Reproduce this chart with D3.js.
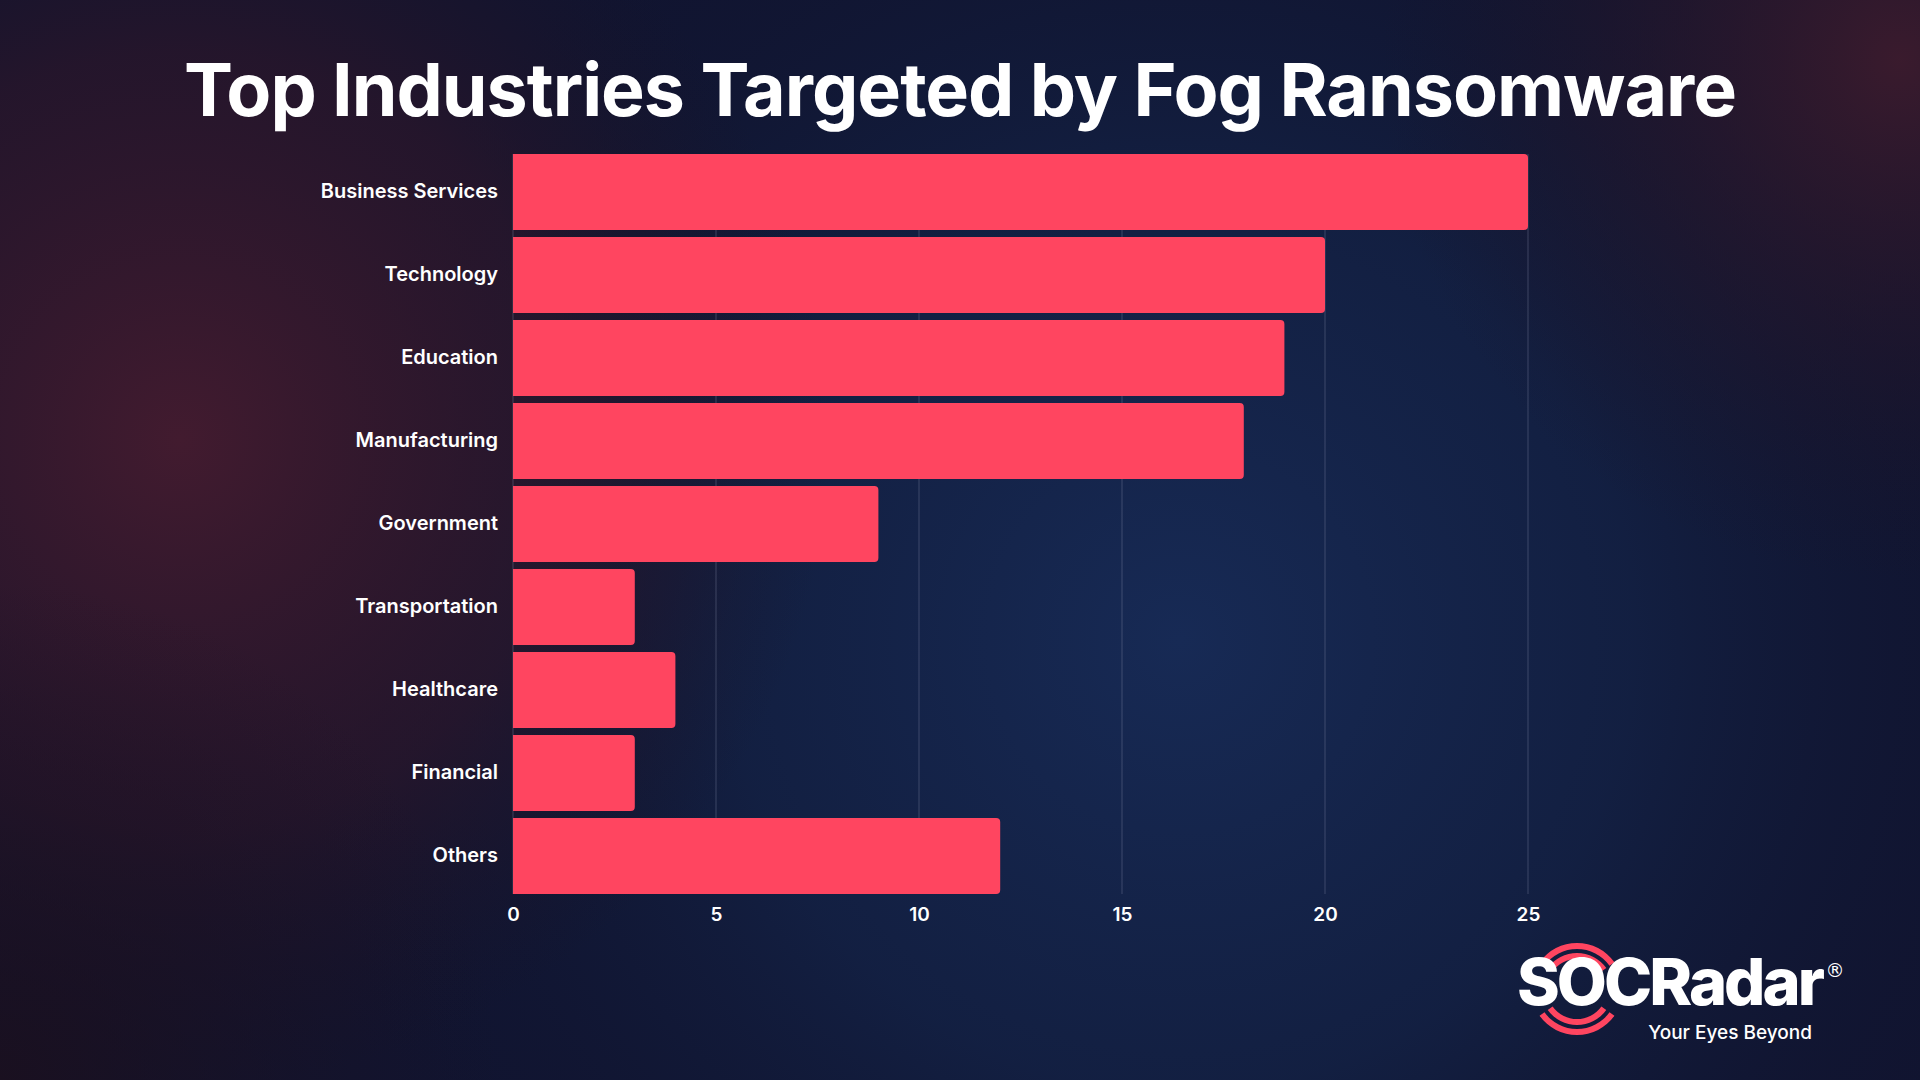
<!DOCTYPE html>
<html><head><meta charset="utf-8">
<script src="https://cdn.jsdelivr.net/npm/d3@7"></script>
<style>
html,body{margin:0;padding:0;background:#111530;}
svg{display:block;}
</style></head>
<body>
<svg id="chart" width="1920" height="1080"></svg>
<script>
const categories = ["Business Services","Technology","Education","Manufacturing","Government","Transportation","Healthcare","Financial","Others"];
const values = [25, 20, 19, 18, 9, 3, 4, 3, 12];
const tickValues = [0, 5, 10, 15, 20, 25];
const titleText = "Top Industries Targeted by Fog Ransomware";

const svg = d3.select("#chart");
const defs = svg.append("defs");

function radial(id, cx, cy, r, stops){
  const g = defs.append("radialGradient").attr("id", id)
    .attr("gradientUnits","userSpaceOnUse").attr("cx",cx).attr("cy",cy).attr("r",r);
  stops.forEach(s => g.append("stop").attr("offset", s[0]).attr("stop-color", s[1]).attr("stop-opacity", s[2]));
}
radial("bgBlue", 1180, 640, 900, [[0,"#172a55",1],[0.5,"#132246",0.8],[1,"#0f1530",0]]);
radial("bgMaroon", 180, 440, 650, [[0,"#421b2f",1],[0.6,"#2e1629",0.65],[1,"#1a1224",0]]);
radial("bgTopRight", 1900, 60, 520, [[0,"#3c1b2d",0.95],[1,"#1a1224",0]]);
radial("bgBotLeft", 0, 1080, 500, [[0,"#1c0f1c",0.8],[1,"#1a1020",0]]);
svg.append("rect").attr("width",1920).attr("height",1080).attr("fill","#111430");
svg.append("rect").attr("width",1920).attr("height",1080).attr("fill","url(#bgBlue)");
svg.append("rect").attr("width",1920).attr("height",1080).attr("fill","url(#bgMaroon)");
svg.append("rect").attr("width",1920).attr("height",1080).attr("fill","url(#bgTopRight)");
svg.append("rect").attr("width",1920).attr("height",1080).attr("fill","url(#bgBotLeft)");

// title
const title = svg.append("text")
  .attr("x", 960).attr("y", 116)
  .attr("text-anchor","middle")
  .attr("fill","#ffffff")
  .style("font-family","Inter, 'Open Sans', sans-serif")
  .style("font-weight", 700)
  .style("font-size","72px")
  .style("letter-spacing","-1px")
  .text(titleText);
const tw = title.node().getComputedTextLength();
title.style("font-size", (72 * 1552 / tw).toFixed(1) + "px");

// scales
const x = d3.scaleLinear().domain([0, 25]).range([513, 1528]);
const y = d3.scaleBand().domain(categories).range([154, 894]).paddingInner(0.085).paddingOuter(0);

// gridlines
svg.append("g").selectAll("line").data(tickValues).join("line")
  .attr("x1", d => x(d)).attr("x2", d => x(d))
  .attr("y1", 154).attr("y2", 894)
  .attr("stroke", "#8a93b0").attr("stroke-opacity", 0.35).attr("stroke-width", 1);

// bars (rounded right end)
const r = 4;
svg.append("g").selectAll("path").data(categories).join("path")
  .attr("fill", "#ff4560")
  .attr("d", (c, i) => {
    const x0 = x(0), x1 = x(values[i]), y0 = y(c), h = y.bandwidth();
    return `M${x0},${y0}H${x1 - r}Q${x1},${y0} ${x1},${y0 + r}V${y0 + h - r}Q${x1},${y0 + h} ${x1 - r},${y0 + h}H${x0}Z`;
  });

// category labels
const yAxis = d3.axisLeft(y).tickSize(0).tickPadding(15);
const ya = svg.append("g").attr("transform", `translate(${x(0)},0)`).call(yAxis);
ya.select(".domain").remove();
ya.selectAll("text")
  .attr("fill", "#ffffff")
  .style("font-family", "Inter, 'Open Sans', sans-serif")
  .style("font-weight", 600)
  .style("font-size", "20px");

// x axis
const xAxis = d3.axisBottom(x).tickValues(tickValues).tickSize(0).tickPadding(14);
const xa = svg.append("g").attr("transform", `translate(0,${894})`).call(xAxis);
xa.select(".domain").remove();
xa.selectAll("text")
  .attr("fill", "#ffffff")
  .style("font-family", "Inter, 'Open Sans', sans-serif")
  .style("font-weight", 600)
  .style("font-size", "19px");

// logo
const logo = svg.append("g");
const arc = d3.arc();
const cx = 1577, cy = 989;
[[30, 36], [40, 46]].forEach(([ri, ro]) => {
  logo.append("path").attr("transform", `translate(${cx},${cy})`)
    .attr("fill", "#ff4560")
    .attr("d", arc({innerRadius: ri, outerRadius: ro, startAngle: -0.95, endAngle: 0.95, cornerRadius: 3}));
  logo.append("path").attr("transform", `translate(${cx},${cy})`)
    .attr("fill", "#ff4560")
    .attr("d", arc({innerRadius: ri, outerRadius: ro, startAngle: Math.PI - 0.95, endAngle: Math.PI + 0.95, cornerRadius: 3}));
});
const brand = logo.append("text")
  .attr("x", 1517).attr("y", 1005)
  .attr("fill", "#ffffff")
  .style("font-family", "Inter, 'Open Sans', sans-serif")
  .style("font-weight", 800)
  .style("font-size", "50px")
  .style("letter-spacing", "-3px")
  .text("SOCRadar");
const bw = brand.node().getComputedTextLength();
brand.style("font-size", (50 * 298 / bw).toFixed(1) + "px");
logo.append("text")
  .attr("x", 1835).attr("y", 977)
  .attr("text-anchor", "middle")
  .attr("fill", "#ffffff")
  .style("font-family", "'DejaVu Sans', sans-serif")
  .style("font-size", "19px")
  .text("®");
logo.append("text")
  .attr("x", 1812).attr("y", 1039)
  .attr("text-anchor", "end")
  .attr("fill", "#ffffff")
  .style("font-family", "Inter, 'Open Sans', sans-serif")
  .style("font-weight", 500)
  .style("font-size", "19px")
  .text("Your Eyes Beyond");
</script>
</body></html>
